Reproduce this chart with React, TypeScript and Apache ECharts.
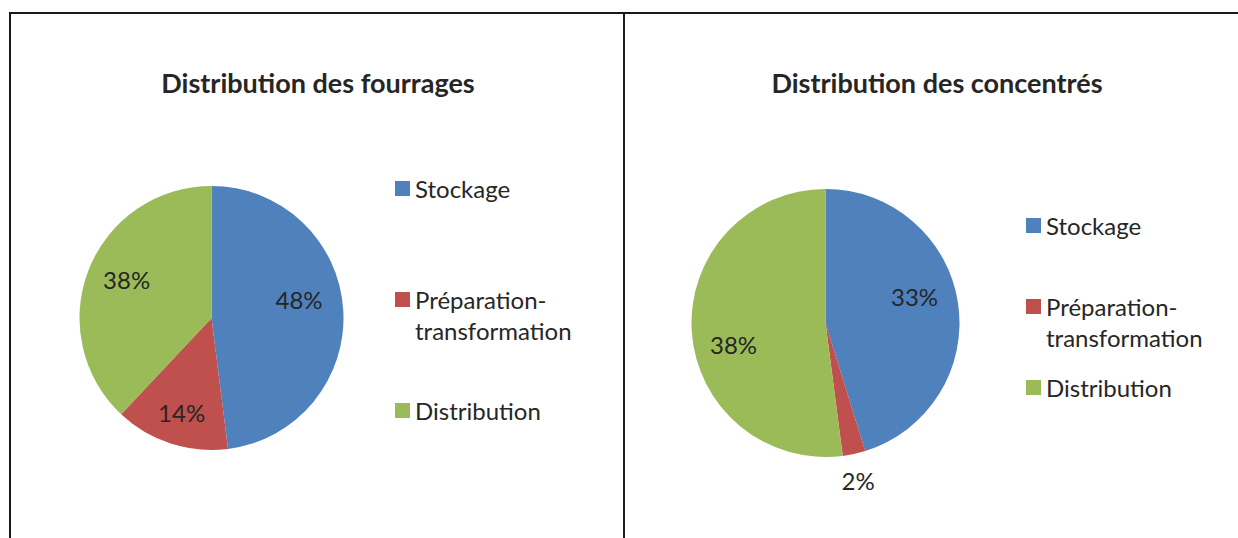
import React, { useEffect, useRef } from "react";
import * as echarts from "echarts";

const categories = ["Stockage", "Préparation-transformation", "Distribution"];
const fourragesValues = [48, 14, 38];
const concentresValues = [33, 2, 38];
const titles = ["Distribution des fourrages", "Distribution des concentrés"];
// which labels Excel placed outside the slice (best fit)
const concentresOutsideLabel = [false, true, false];
const fourragesOutsideLabel = [false, false, false];

const COLORS = ["#4F81BD", "#C0504D", "#9BBB59"];
const FONT = "Lato";
const TEXT = "#262626";

// small label nudges (Excel "best fit" is not exactly on the bisector)
const fourragesNudge = [[-9, -12], [0, 3], [5, -3]];
const concentresNudge = [[-8, -12], [-3, -5], [6, 15]];

export default function App() {
  const ref = useRef<HTMLDivElement>(null);

  useEffect(() => {
    if (!ref.current) return;
    const chart = echarts.init(ref.current, undefined, { renderer: "svg" });

    const pies = [
      { values: fourragesValues, center: [211.5, 318], r: 132, outside: fourragesOutsideLabel, nudge: fourragesNudge },
      { values: concentresValues, center: [825.5, 323], r: 134, outside: concentresOutsideLabel, nudge: concentresNudge },
    ];

    const labelStyle = {
      color: TEXT,
      fontFamily: FONT,
      fontSize: 24,
      formatter: "{c}%",
    };

    const series: any[] = [];
    // visible pies first (legend colour lookup)
    pies.forEach((p) => {
      series.push({
        type: "pie",
        center: p.center,
        radius: [0, p.r],
        startAngle: 90,
        clockwise: true,
        label: { show: false },
        labelLine: { show: false },
        itemStyle: { borderWidth: 0 },
        emphasis: { disabled: true },
        data: categories.map((name, i) => ({
          name,
          value: p.values[i],
          itemStyle: { color: COLORS[i] },
        })),
      });
    });
    // transparent label carriers: inside labels at ~0.71r, outside at ~1.22r
    pies.forEach((p) => {
      [
        { ratio: 1.42, outside: false },
        { ratio: 2.44, outside: true },
      ].forEach((cfg) => {
        series.push({
          type: "pie",
          silent: true,
          legendHoverLink: false,
          center: p.center,
          radius: [0, p.r * cfg.ratio],
          startAngle: 90,
          clockwise: true,
          z: 5,
          labelLine: { show: false },
          emphasis: { disabled: true },
          itemStyle: { color: "rgba(0,0,0,0)", borderWidth: 0 },
          labelLayout: (params: any) => {
            const n = p.nudge[params.dataIndex] || [0, 0];
            return { dx: n[0], dy: n[1] };
          },
          data: categories.map((name, i) => ({
            name,
            value: p.values[i],
            itemStyle: { color: "rgba(0,0,0,0)" },
            label: {
              show: p.outside[i] === cfg.outside,
              position: "inside",
              ...labelStyle,
            },
          })),
        });
      });
    });

    const legendBase = {
      orient: "vertical",
      icon: "rect",
      itemWidth: 15,
      itemHeight: 15,
      padding: 0,
      selectedMode: false,
      textStyle: { fontFamily: FONT, fontSize: 24, lineHeight: 31, color: TEXT },
      // wrapped entry: a blank first line keeps the first text line level with the swatch
      formatter: (name: string) =>
        name.indexOf("-") >= 0 ? "\n" + name.replace("-", "-\n") : name,
      data: categories,
    };

    const titleStyle = {
      fontFamily: FONT,
      fontSize: 27,
      fontWeight: "bold",
      color: TEXT,
      lineHeight: 32,
    };

    chart.setOption({
      animation: false,
      backgroundColor: "#ffffff",
      title: [
        { text: titles[0], left: 318, top: 66, textAlign: "center", padding: 0, textStyle: titleStyle },
        { text: titles[1], left: 937, top: 66, textAlign: "center", padding: 0, textStyle: titleStyle },
      ],
      legend: [
        { ...legendBase, left: 395, top: 173, itemGap: 49 },
        { ...legendBase, left: 1026, top: 210, itemGap: 19 },
      ],
      graphic: [
        { type: "line", shape: { x1: 10, y1: 13, x2: 1238, y2: 13 }, style: { stroke: "#1a1a1a", lineWidth: 2 }, silent: true },
        { type: "line", shape: { x1: 10, y1: 12, x2: 10, y2: 538 }, style: { stroke: "#1a1a1a", lineWidth: 2 }, silent: true },
        { type: "line", shape: { x1: 624, y1: 12, x2: 624, y2: 538 }, style: { stroke: "#1a1a1a", lineWidth: 2 }, silent: true },
      ],
      series,
    });

    return () => chart.dispose();
  }, []);

  return (
    <div
      ref={ref}
      style={{ position: "fixed", left: 0, top: 0, width: 1238, height: 538 }}
    />
  );
}
